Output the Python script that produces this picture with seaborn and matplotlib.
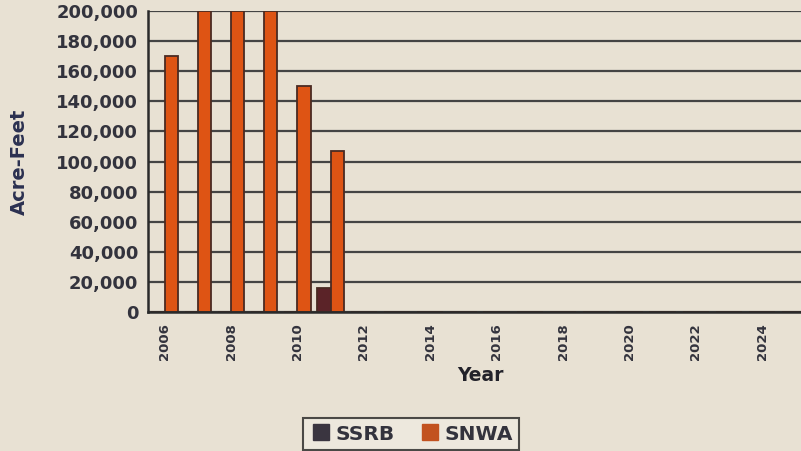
import matplotlib
matplotlib.use("Agg")
import matplotlib.pyplot as plt
import seaborn as sns
import pandas as pd
from matplotlib.lines import Line2D
from matplotlib.ticker import FuncFormatter

years = [str(y) for y in range(2006, 2026)]
ssrb = [0, 0, 0, 0, 0, 16000] + [0] * 14
snwa = [170000, 200000, 200000, 200000, 150000, 107000] + [0] * 14

df = pd.DataFrame({
    "Year": years * 2,
    "Acre-Feet": ssrb + snwa,
    "Series": ["SSRB"] * len(years) + ["SNWA"] * len(years),
})

sns.set_style("white")
plt.rcParams["font.family"] = ["DejaVu Sans"]

bg = "#e8e1d3"
text_c = "#33333d"
fig = plt.figure(figsize=(8.01, 4.51), dpi=100, facecolor=bg)
# axes runs off the right edge like the original scan
ax = fig.add_axes([148 / 801, 1 - 312 / 451, 664 / 801, 301 / 451], facecolor=bg)

sns.barplot(data=df, x="Year", y="Acre-Feet", hue="Series",
            palette={"SSRB": "#5b2328", "SNWA": "#de5414"}, saturation=1,
            width=0.8, edgecolor="#4a2a22", linewidth=1.3,
            legend=False, ax=ax)

ax.set_ylim(0, 200000)
ax.set_xlim(-0.5, len(years) - 0.5)
ax.set_yticks(range(0, 200001, 20000))
ax.yaxis.set_major_formatter(FuncFormatter(lambda v, p: f"{int(v):,}"))
ax.yaxis.grid(True, color="#444444", linewidth=1.6)
ax.set_axisbelow(True)

ax.set_xticks(range(len(years)))
ax.set_xticklabels([y if i % 2 == 0 else "" for i, y in enumerate(years)],
                   rotation=90, fontsize=9.5, fontweight="bold", color=text_c)
ax.set_xticks([i - 0.5 for i in range(len(years) + 1)], minor=True)
ax.tick_params(axis="x", which="major", length=0, pad=8)
ax.tick_params(axis="x", which="minor", length=6, width=1.3,
               direction="inout", color="#333333")
ax.tick_params(axis="y", length=6, width=1.3, direction="inout",
               color="#333333", labelsize=13, labelcolor=text_c, pad=4)
for lab in ax.get_yticklabels():
    lab.set_fontweight("bold")

for s in ["top", "right"]:
    ax.spines[s].set_visible(False)
for s in ["left", "bottom"]:
    ax.spines[s].set_color("#2a2a2a")
    ax.spines[s].set_linewidth(1.8)

ax.set_xlabel("Year", fontsize=13.5, fontweight="bold", color="#22222a", labelpad=4)
ax.set_ylabel("Acre-Feet", fontsize=14, fontweight="bold", color="#2b3050", labelpad=20)

handles = [Line2D([], [], marker="s", linestyle="", markersize=12,
                  color="#3a3540", label="SSRB"),
           Line2D([], [], marker="s", linestyle="", markersize=12,
                  color="#c2521f", label="SNWA")]
leg = fig.legend(handles=handles, loc="center", ncol=2,
                 bbox_to_anchor=(411 / 801, 1 - 434 / 451),
                 frameon=True, fancybox=False, handletextpad=0.1,
                 handlelength=1.2, columnspacing=1.2, borderpad=0.3,
                 borderaxespad=0, prop={"weight": "bold", "size": 14.5})
leg.get_frame().set_edgecolor("#222222")
leg.get_frame().set_linewidth(1.5)
leg.get_frame().set_facecolor("#efeae0")
for t in leg.get_texts():
    t.set_color(text_c)

fig.savefig("out.png", dpi=100, facecolor=bg)
